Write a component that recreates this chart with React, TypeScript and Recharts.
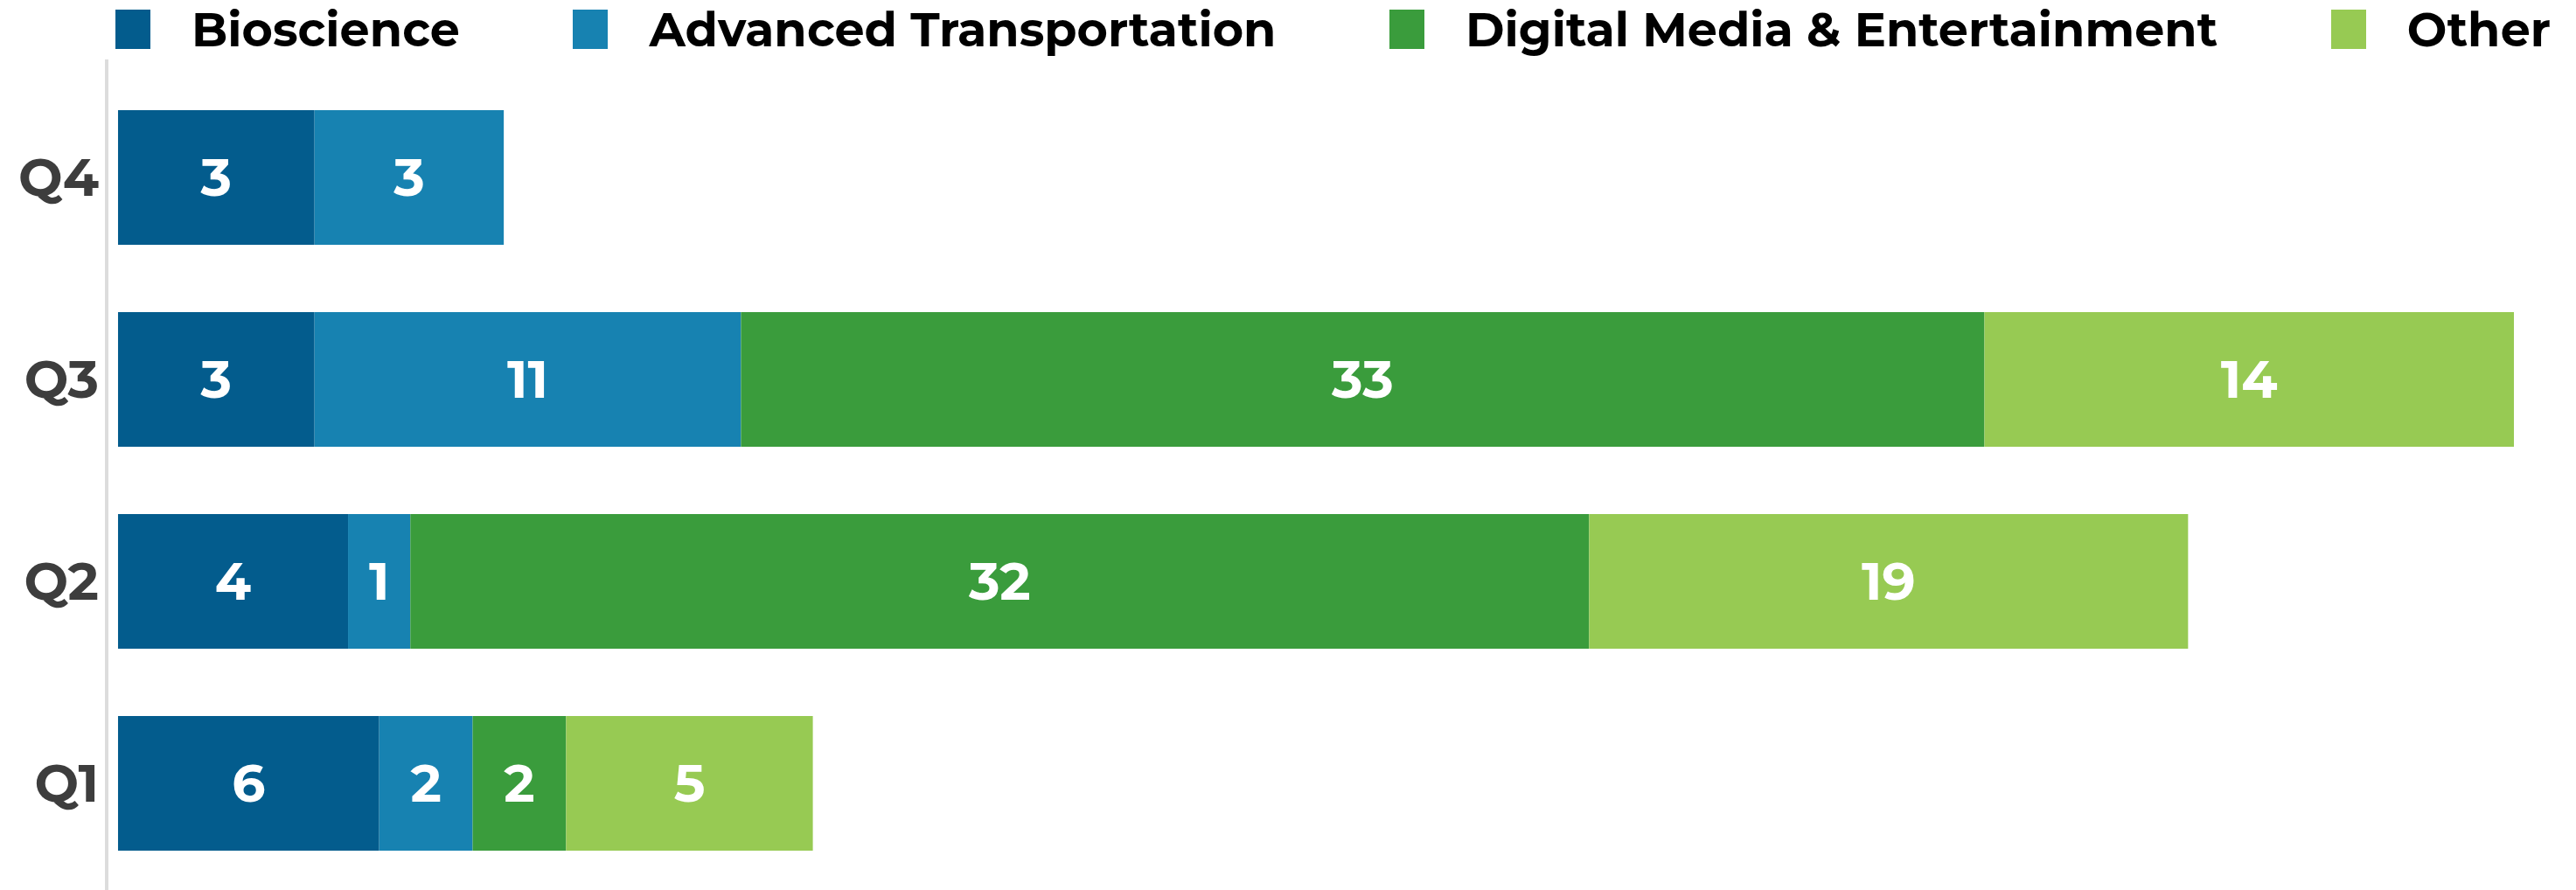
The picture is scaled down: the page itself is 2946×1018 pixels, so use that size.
import React from 'react';
import { BarChart, Bar, XAxis, YAxis, LabelList } from 'recharts';

// quarters, top to bottom
const quarters = ['Q4', 'Q3', 'Q2', 'Q1'];

// segment lengths (share of the longest bar, Q3 = 100)
const bioscienceShare = [8.2, 8.2, 9.6, 10.9];
const advancedShare = [7.9, 17.8, 2.6, 3.9];
const digitalShare = [0, 51.9, 49.2, 3.9];
const otherShare = [0, 22.1, 25.0, 10.3];

// numbers printed in the segments
const bioscienceCount = [3, 3, 4, 6];
const advancedCount = [3, 11, 1, 2];
const digitalCount = [null, 33, 32, 2];
const otherCount = [null, 14, 19, 5];

const series = [
  { key: 'bio', label: 'Bioscience', color: '#035C8D' },
  { key: 'adv', label: 'Advanced Transportation', color: '#1782B1' },
  { key: 'dig', label: 'Digital Media & Entertainment', color: '#3A9C3C' },
  { key: 'oth', label: 'Other', color: '#97CA53' },
];

const data = quarters.map((q, i) => ({
  quarter: q,
  bio: bioscienceShare[i],
  adv: advancedShare[i],
  dig: digitalShare[i],
  oth: otherShare[i],
  bioN: bioscienceCount[i],
  advN: advancedCount[i],
  digN: digitalCount[i],
  othN: otherCount[i],
}));

const FONT = 'Montserrat, Inter, sans-serif';

export default function App() {
  return (
    <div style={{ position: 'absolute', left: 0, top: 0, width: 2946, height: 1018, background: '#fff', fontFamily: FONT }}>
      {/* legend */}
      <div
        style={{
          position: 'absolute', left: 132, top: 0, width: 2785, height: 67,
          display: 'flex', justifyContent: 'space-between', alignItems: 'center',
        }}
      >
        {series.map((s) => (
          <div key={s.key} style={{ display: 'flex', alignItems: 'center' }}>
            <div style={{ width: 40, height: 45, background: s.color, marginRight: 47 }} />
            <span style={{ fontSize: 54, fontWeight: 700, color: '#000', lineHeight: 1 }}>{s.label}</span>
          </div>
        ))}
      </div>

      <BarChart
        width={2946}
        height={1018}
        data={data}
        layout="vertical"
        margin={{ top: 68, right: 71, bottom: 0, left: 0 }}
      >
        <XAxis type="number" domain={[-0.474, 100]} hide allowDataOverflow />
        <YAxis
          type="category"
          dataKey="quarter"
          width={122}
          padding={{ top: 19, bottom: 7 }}
          axisLine={{ stroke: '#dcdcdc', strokeWidth: 4 }}
          tickLine={false}
          tickSize={0}
          tickMargin={9}
          tick={{ fill: '#3d3d3d', fontSize: 60, fontWeight: 700, fontFamily: FONT }}
        />
        {series.map((s) => (
          <Bar key={s.key} dataKey={s.key} stackId="a" fill={s.color} barSize={154} isAnimationActive={false}>
            <LabelList
              dataKey={`${s.key}N`}
              position="center"
              fill="#fff"
              style={{ fontSize: 60, fontWeight: 700, fontFamily: FONT }}
            />
          </Bar>
        ))}
      </BarChart>
    </div>
  );
}
